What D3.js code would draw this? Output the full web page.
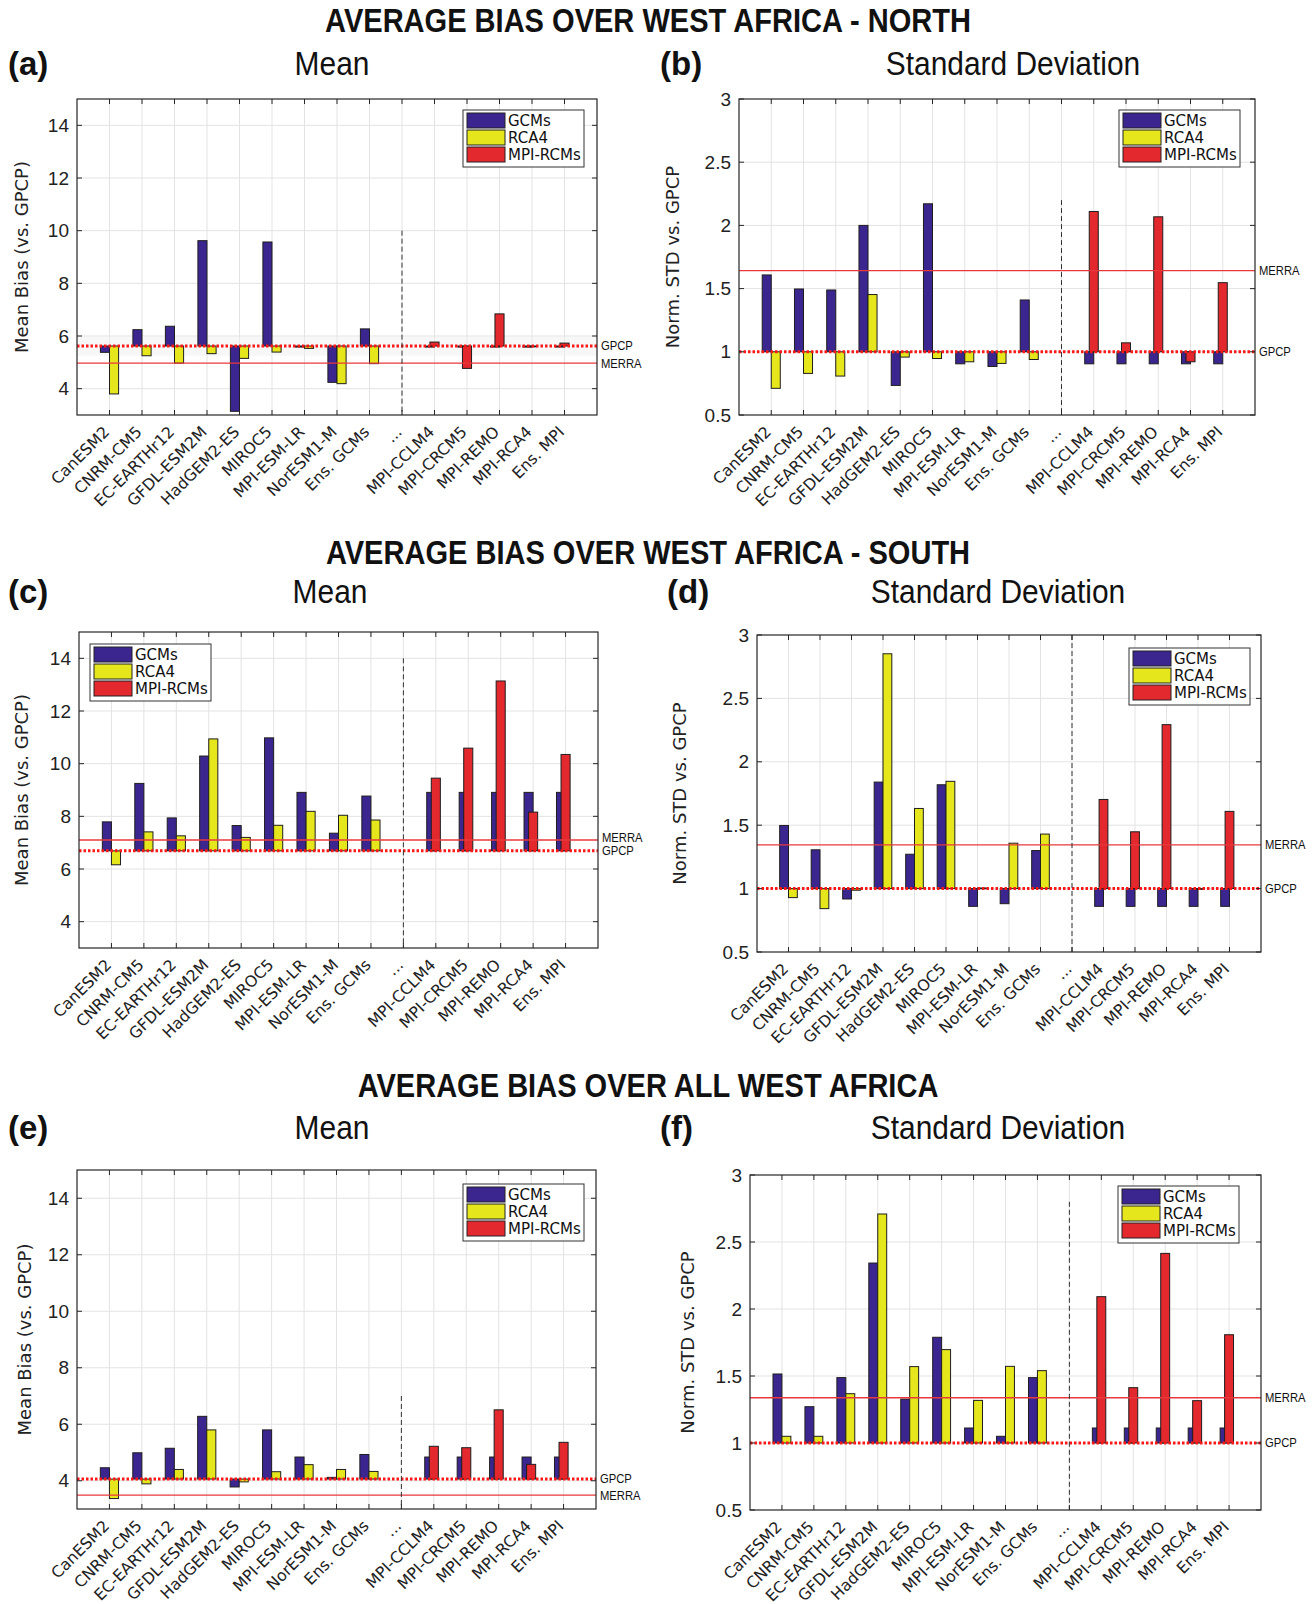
<!DOCTYPE html>
<html><head><meta charset="utf-8">
<script src="https://cdn.jsdelivr.net/npm/d3@7"></script>
<style>body{margin:0;background:#fff;} svg{display:block;}</style>
</head><body><svg id="c" width="1315" height="1604"></svg>
<script>
// ---------------- DATA ----------------
const categories = ["CanESM2","CNRM-CM5","EC-EARTHr12","GFDL-ESM2M","HadGEM2-ES","MIROC5","MPI-ESM-LR","NorESM1-M","Ens. GCMs","...","MPI-CCLM4","MPI-CRCM5","MPI-REMO","MPI-RCA4","Ens. MPI"];
const seriesNames = ["GCMs","RCA4","MPI-RCMs"];
const sectionTitles = ["AVERAGE BIAS OVER WEST AFRICA - NORTH","AVERAGE BIAS OVER WEST AFRICA - SOUTH","AVERAGE BIAS OVER ALL WEST AFRICA"];
const panelLabels = ["(a)","(b)","(c)","(d)","(e)","(f)"];
const panelTitles = ["Mean","Standard Deviation","Mean","Standard Deviation","Mean","Standard Deviation"];
const yLabels = ["Mean Bias (vs. GPCP)","Norm. STD vs. GPCP","Mean Bias (vs. GPCP)","Norm. STD vs. GPCP","Mean Bias (vs. GPCP)","Norm. STD vs. GPCP"];
const yTicksMean = [4,6,8,10,12,14];
const yTicksStd = [0.5,1,1.5,2,2.5,3];
const yDomainMean = [3,15];
const yDomainStd = [0.5,3];

// (a) North - mean
const gcmA = [5.38,6.24,6.37,9.62,3.14,9.57,5.58,4.24,6.27,null,5.58,5.58,5.58,5.58,5.58];
const rcaA = [3.80,5.25,4.97,5.33,5.15,5.39,5.53,4.19,4.95,null,null,null,null,null,null];
const mpiA = [null,null,null,null,null,null,null,null,null,null,5.77,4.77,6.84,5.59,5.73];
// (b) North - std
const gcmB = [1.608,1.497,1.489,2.00,0.734,2.171,0.905,0.884,1.41,null,0.905,0.905,0.905,0.905,0.905];
const rcaB = [0.711,0.829,0.808,1.453,0.958,0.947,0.921,0.908,0.939,null,null,null,null,null,null];
const mpiB = [null,null,null,null,null,null,null,null,null,null,2.11,1.071,2.068,0.921,1.547];
// (c) South - mean
const gcmC = [7.79,9.25,7.94,10.29,7.65,10.98,8.91,7.36,8.77,null,8.91,8.91,8.91,8.91,8.91];
const rcaC = [6.16,7.41,7.26,10.94,7.20,7.66,8.19,8.04,7.86,null,null,null,null,null,null];
const mpiC = [null,null,null,null,null,null,null,null,null,null,9.45,10.59,13.14,8.16,10.35];
// (d) South - std
const gcmD = [1.498,1.306,0.918,1.84,1.271,1.819,0.86,0.881,1.30,null,0.86,0.86,0.86,0.86,0.86];
const rcaD = [0.929,0.842,0.987,2.852,1.632,1.846,1.005,1.358,1.43,null,null,null,null,null,null];
const mpiD = [null,null,null,null,null,null,null,null,null,null,1.703,1.448,2.293,1.0,1.609];
// (e) All - mean
const gcmE = [4.46,4.99,5.15,6.28,3.78,5.80,4.84,4.12,4.93,null,4.84,4.84,4.84,4.84,4.84];
const rcaE = [3.37,3.89,4.40,5.80,3.96,4.32,4.57,4.40,4.33,null,null,null,null,null,null];
const mpiE = [null,null,null,null,null,null,null,null,null,null,5.22,5.17,6.51,4.58,5.36];
// (f) All - std
const gcmF = [1.515,1.271,1.488,2.343,1.328,1.789,1.112,1.05,1.488,null,1.112,1.112,1.112,1.112,1.112];
const rcaF = [1.05,1.05,1.368,2.709,1.570,1.697,1.318,1.572,1.54,null,null,null,null,null,null];
const mpiF = [null,null,null,null,null,null,null,null,null,null,2.092,1.413,2.415,1.316,1.808];

const gpcpRef = [5.62,1.0,6.69,1.0,4.06,1.0];
const merraRef = [4.97,1.642,7.10,1.345,3.49,1.338];
const separatorTop = [10,2.2,14,3,7,2.8];

// ---------------- LAYOUT / STYLE ----------------
const colors = {gcm:"#3b2690", rca:"#e6e61c", mpi:"#e3282e"};
const SANS = "'Liberation Sans',Arial,sans-serif";
const DJ = "'DejaVu Sans',sans-serif";
const NX = 0.88; // horizontal condensing factor for the narrow headline font

const panels = [
  {L:77, R:597, T:99,  B:415, legX:-13, legY:11, legLeft:false, ylabX:22,  titleX:332,  titleY:75,  lblX:8,   lblY:75},
  {L:739,R:1255,T:99,  B:415, legX:-15, legY:11, legLeft:false, ylabX:673, titleX:1013, titleY:75,  lblX:660, lblY:75},
  {L:79, R:598, T:632, B:948, legX:11,  legY:12, legLeft:true,  ylabX:22,  titleX:330,  titleY:603, lblX:8,   lblY:603},
  {L:757,R:1261,T:635, B:952, legX:-11, legY:13, legLeft:false, ylabX:680, titleX:998,  titleY:603, lblX:667, lblY:603},
  {L:77, R:596, T:1170,B:1509,legX:-12, legY:14, legLeft:false, ylabX:25,  titleX:332,  titleY:1139,lblX:8,   lblY:1139},
  {L:750,R:1261,T:1175,B:1510,legX:-22, legY:11, legLeft:false, ylabX:688, titleX:998,  titleY:1139,lblX:660, lblY:1139}
];
const panelData = [
  [gcmA,rcaA,mpiA],[gcmB,rcaB,mpiB],[gcmC,rcaC,mpiC],
  [gcmD,rcaD,mpiD],[gcmE,rcaE,mpiE],[gcmF,rcaF,mpiF]
];
const sectionY = [32,564,1097];

const svg = d3.select("#c");

function narrowText(x,y,txt,size,bold,anchor,sx){
  return svg.append("text").attr("transform",`translate(${x},${y}) scale(${sx===undefined?NX:sx},1)`)
    .attr("text-anchor",anchor||"start").attr("font-family",SANS)
    .attr("font-weight",bold?"bold":"normal").attr("font-size",size).attr("fill","#111").text(txt);
}

sectionTitles.forEach((t,i)=>{ narrowText(648,sectionY[i],t,33,true,"middle"); });

panels.forEach((p,pi)=>{
  const isStd = pi%2===1;
  const dom = isStd ? yDomainStd : yDomainMean;
  const ticks = isStd ? yTicksStd : yTicksMean;
  const x = d3.scaleLinear().domain([0,16]).range([p.L,p.R]);
  const y = d3.scaleLinear().domain(dom).range([p.B,p.T]);
  const g = svg.append("g");
  const [gcm,rca,mpi] = panelData[pi];
  const base = gpcpRef[pi];
  const bw = 0.28;

  narrowText(p.lblX,p.lblY,panelLabels[pi],33,true,"start",1);
  narrowText(p.titleX,p.titleY,panelTitles[pi],34,false,"middle");

  g.append("rect").attr("x",p.L).attr("y",p.T).attr("width",p.R-p.L).attr("height",p.B-p.T).attr("fill","#fff");

  const xt = d3.range(1,16);
  g.selectAll(".vg").data(xt).join("line").attr("x1",d=>x(d)).attr("x2",d=>x(d)).attr("y1",p.T).attr("y2",p.B)
    .attr("stroke","#e3e3e3").attr("stroke-width",1);
  g.selectAll(".hg").data(ticks.filter(t=>t>dom[0]&&t<dom[1])).join("line").attr("x1",p.L).attr("x2",p.R)
    .attr("y1",d=>y(d)).attr("y2",d=>y(d)).attr("stroke","#e3e3e3").attr("stroke-width",1);

  const clipId = "clip"+pi;
  svg.append("clipPath").attr("id",clipId).append("rect").attr("x",p.L).attr("y",p.T).attr("width",p.R-p.L).attr("height",p.B-p.T);
  const pg = g.append("g").attr("clip-path",`url(#${clipId})`);

  if(pi===0){
    pg.append("rect").attr("x",p.L).attr("width",p.R-p.L).attr("y",y(5.97)).attr("height",y(5.25)-y(5.97))
      .attr("fill","#efefef").attr("opacity",0.5);
  }

  const barRect = (sel, vals, color, off) => {
    const idx = d3.range(vals.length).filter(i=>vals[i]!==null);
    sel.selectAll(null).data(idx).join("rect")
      .attr("x",i=>x(i+1+off))
      .attr("width",i=>x(i+1+off+bw)-x(i+1+off))
      .attr("y",i=>y(Math.max(vals[i],base)))
      .attr("height",i=>Math.max(0.8,Math.abs(y(vals[i])-y(base))))
      .attr("fill",color).attr("stroke","#1e1e1e").attr("stroke-width",1);
  };
  barRect(pg, gcm, colors.gcm, -bw);
  barRect(pg, rca, colors.rca, 0);
  barRect(pg, mpi, colors.mpi, -bw/2);

  pg.append("line").attr("x1",p.L).attr("x2",p.R).attr("y1",y(merraRef[pi])).attr("y2",y(merraRef[pi]))
    .attr("stroke","#e8383c").attr("stroke-width",1.4);
  pg.append("line").attr("x1",p.L).attr("x2",p.R).attr("y1",y(base)).attr("y2",y(base))
    .attr("stroke","#ff1616").attr("stroke-width",3).attr("stroke-dasharray","2.5,2");

  g.append("line").attr("x1",x(10)).attr("x2",x(10)).attr("y1",y(separatorTop[pi])).attr("y2",p.B)
    .attr("stroke","#333").attr("stroke-width",1).attr("stroke-dasharray","5,3");

  const gp = y(base), me = y(merraRef[pi]);
  let gpY = gp, meY = me;
  if(Math.abs(gp-me)<13){ if(gp<me){gpY=me-13;} else {meY=gp-13;} }
  [["GPCP",gpY],["MERRA",meY]].forEach(([t,yy])=>{
    svg.append("text").attr("transform",`translate(${p.R+4},${yy}) scale(0.9,1)`).attr("dy","0.35em")
      .attr("font-family",SANS).attr("font-size",12.5).attr("fill","#111").text(t);
  });

  g.append("rect").attr("x",p.L).attr("y",p.T).attr("width",p.R-p.L).attr("height",p.B-p.T)
    .attr("fill","none").attr("stroke","#262626").attr("stroke-width",1.2);
  const tl = 5;
  xt.forEach(t=>{
    g.append("line").attr("x1",x(t)).attr("x2",x(t)).attr("y1",p.B).attr("y2",p.B-tl).attr("stroke","#262626");
    g.append("line").attr("x1",x(t)).attr("x2",x(t)).attr("y1",p.T).attr("y2",p.T+tl).attr("stroke","#262626");
  });
  ticks.forEach(t=>{
    g.append("line").attr("x1",p.L).attr("x2",p.L+tl).attr("y1",y(t)).attr("y2",y(t)).attr("stroke","#262626");
    g.append("line").attr("x1",p.R).attr("x2",p.R-tl).attr("y1",y(t)).attr("y2",y(t)).attr("stroke","#262626");
    g.append("text").attr("x",p.L-8).attr("y",y(t)).attr("dy","0.35em").attr("text-anchor","end")
      .attr("font-family",SANS).attr("font-size",19).attr("fill","#222").text(d3.format("~g")(t));
  });

  categories.forEach((c,i)=>{
    g.append("text").attr("transform",`translate(${x(i+1)-3},${p.B+14}) rotate(-45)`)
      .attr("text-anchor","end").attr("dy","0.35em").attr("font-family",DJ).attr("font-size",15.8)
      .attr("fill","#222").text(c);
  });

  g.append("text").attr("transform",`translate(${p.ylabX},${(p.T+p.B)/2}) rotate(-90)`)
    .attr("text-anchor","middle").attr("dy","0.35em").attr("font-family",DJ).attr("font-size",18)
    .attr("fill","#222").text(yLabels[pi]);

  const lw=121, lh=57;
  const lx = p.legLeft ? p.L+p.legX : p.R+p.legX-lw;
  const ly = p.T+p.legY;
  const lg = g.append("g");
  lg.append("rect").attr("x",lx).attr("y",ly).attr("width",lw).attr("height",lh).attr("fill","#fff")
    .attr("stroke","#333").attr("stroke-width",1);
  [colors.gcm,colors.rca,colors.mpi].forEach((col,k)=>{
    lg.append("rect").attr("x",lx+4).attr("y",ly+3+k*17).attr("width",38).attr("height",15)
      .attr("fill",col).attr("stroke","#222").attr("stroke-width",1);
    lg.append("text").attr("x",lx+45).attr("y",ly+11+k*17).attr("dy","0.35em").attr("font-family",DJ)
      .attr("font-size",15).attr("fill","#111").text(seriesNames[k]);
  });
});
</script></body></html>
